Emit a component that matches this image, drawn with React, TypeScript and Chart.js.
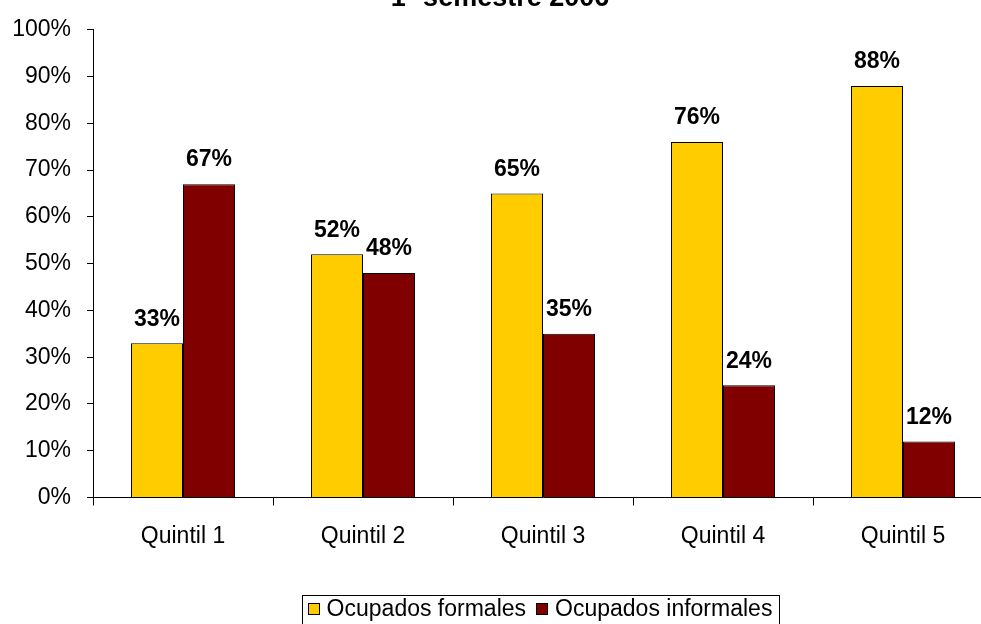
import React, { useEffect, useRef } from "react";
import { Chart, registerables } from "chart.js";

Chart.register(...registerables);

const categories = ["Quintil 1", "Quintil 2", "Quintil 3", "Quintil 4", "Quintil 5"];
const formales = [33, 52, 65, 76, 88];
const informales = [67, 48, 35, 24, 12];
const seriesNames = ["Ocupados formales", "Ocupados informales"];
const seriesColors = ["#FFCC00", "#800000"];
const titleText = "1º semestre 2006";

const FONT = "'Liberation Sans', Arial, sans-serif";

const titlePlugin = {
  id: "clippedTitle",
  afterDraw(chart: any) {
    const ctx = chart.ctx;
    ctx.save();
    ctx.font = `bold 27px ${FONT}`;
    ctx.fillStyle = "#000";
    ctx.textAlign = "center";
    ctx.textBaseline = "alphabetic";
    ctx.fillText(titleText, 500, 6);
    ctx.restore();
  },
};

const valueLabelPlugin = {
  id: "valueLabels",
  afterDatasetsDraw(chart: any) {
    const ctx = chart.ctx;
    ctx.save();
    ctx.font = `bold 23px ${FONT}`;
    ctx.fillStyle = "#000";
    ctx.textAlign = "center";
    ctx.textBaseline = "middle";
    chart.data.datasets.forEach((ds: any, di: number) => {
      const meta = chart.getDatasetMeta(di);
      meta.data.forEach((el: any, i: number) => {
        ctx.fillText(Math.round(ds.data[i]) + "%", el.x, el.y - 24);
      });
    });
    ctx.restore();
  },
};

const legendPlugin = {
  id: "boxedLegend",
  afterDraw(chart: any) {
    const ctx = chart.ctx;
    ctx.save();
    ctx.font = `23px ${FONT}`;
    const box = 12;
    const gap = 7;
    const itemGap = 10;
    const items = chart.data.datasets.map((ds: any) => ({
      label: ds.label,
      color: ds.backgroundColor,
      w: box + gap + ctx.measureText(ds.label).width,
    }));
    const total = items.reduce((s: number, it: any) => s + it.w, 0) + itemGap * (items.length - 1);
    const cx = 540;
    const cy = 609;
    let x = cx - total / 2;
    ctx.strokeStyle = "#000";
    ctx.lineWidth = 1;
    ctx.strokeRect(Math.round(x - 6) + 0.5, 595.5, Math.round(total + 12), 30);
    ctx.textBaseline = "middle";
    ctx.textAlign = "left";
    items.forEach((it: any) => {
      ctx.fillStyle = it.color;
      ctx.fillRect(Math.round(x), cy - 6, box, box);
      ctx.strokeRect(Math.round(x) + 0.5, cy - 6 + 0.5, box - 1, box - 1);
      ctx.fillStyle = "#000";
      ctx.fillText(it.label, x + box + gap, cy + 1);
      x += it.w + itemGap;
    });
    ctx.restore();
  },
};

export default function App() {
  const canvasRef = useRef<HTMLCanvasElement | null>(null);

  useEffect(() => {
    if (!canvasRef.current) return;
    const chart = new Chart(canvasRef.current, {
      type: "bar",
      data: {
        labels: categories,
        datasets: [
          {
            label: seriesNames[0],
            data: formales,
            backgroundColor: seriesColors[0],
            borderColor: "#000",
            borderWidth: 1,
            categoryPercentage: 0.578,
            barPercentage: 1,
          },
          {
            label: seriesNames[1],
            data: informales,
            backgroundColor: seriesColors[1],
            borderColor: "#000",
            borderWidth: 1,
            categoryPercentage: 0.578,
            barPercentage: 1,
          },
        ],
      },
      options: {
        animation: false,
        responsive: true,
        maintainAspectRatio: false,
        layout: { padding: { top: 22.5, right: 7, left: 0, bottom: 0 } },
        plugins: {
          legend: { display: false },
          title: { display: false },
          tooltip: { enabled: false },
        },
        scales: {
          x: {
            grid: {
              display: true,
              drawOnChartArea: false,
              drawTicks: true,
              tickLength: 8,
              color: "#000",
              offset: true,
            },
            border: { color: "#000", width: 1 },
            ticks: {
              color: "#000",
              font: { family: FONT, size: 23 },
              padding: 17,
              maxRotation: 0,
              autoSkip: false,
            },
            afterFit: (s: any) => {
              s.height = 126.5;
            },
          },
          y: {
            min: 0,
            max: 100,
            ticks: {
              stepSize: 10,
              callback: (v: any) => v + "%",
              color: "#000",
              font: { family: FONT, size: 23 },
              padding: 16,
            },
            grid: { drawOnChartArea: false, tickLength: 6, color: "#000" },
            border: { color: "#000", width: 1 },
            afterFit: (s: any) => {
              s.width = 93;
            },
          },
        },
      },
      plugins: [titlePlugin, valueLabelPlugin, legendPlugin],
    });
    return () => chart.destroy();
  }, []);

  return (
    <div
      style={{
        position: "fixed",
        left: 0,
        top: 0,
        width: 981,
        height: 624,
        overflow: "hidden",
        background: "#fff",
      }}
    >
      <div style={{ position: "relative", width: 1000, height: 624 }}>
        <canvas ref={canvasRef} />
      </div>
    </div>
  );
}
